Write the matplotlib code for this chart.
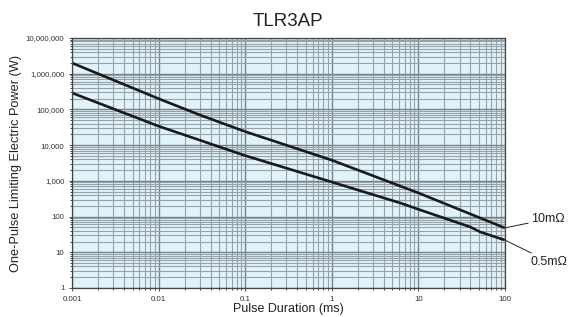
import numpy as np
import matplotlib
matplotlib.use('Agg')
import matplotlib.pyplot as plt
from matplotlib.ticker import LogLocator, FuncFormatter, NullFormatter

plt.rcParams['font.family'] = ['Liberation Sans', 'DejaVu Sans']

# pulse duration (ms) and limiting power (W)
t_10m = [0.001, 0.01, 0.03, 0.1, 1, 10, 100]
p_10m = [2.0e6, 2.0e5, 7.0e4, 2.4e4, 3.8e3, 460, 48]

t_05m = [0.001, 0.01, 0.1, 1, 6.2, 10, 40, 52, 100]
p_05m = [2.9e5, 3.4e4, 5.1e3, 930, 240, 160, 51, 37, 22]

labels = ['10m\u03a9', '0.5m\u03a9']
label_pos = [(200, 85), (200, 5.4)]

xticks = [0.001, 0.01, 0.1, 1, 10, 100]
yticks = [1, 10, 100, 1e3, 1e4, 1e5, 1e6, 1e7]

fig = plt.figure(figsize=(5.68, 3.17), dpi=100)
ax = fig.add_axes([0.1268, 0.0915, 0.762, 0.7886])
ax.set_facecolor('#e0f3fb')

ax.plot(t_10m, p_10m, color='#1a1a1a', lw=1.9, solid_capstyle='butt')
ax.plot(t_05m, p_05m, color='#1a1a1a', lw=1.9, solid_capstyle='butt')

ax.set_xscale('log')
ax.set_yscale('log')
ax.set_xlim(0.001, 100)
ax.set_ylim(1, 1e7)

ax.set_xticks(xticks)
ax.set_yticks(yticks)
ax.xaxis.set_minor_locator(LogLocator(base=10, subs=np.arange(2, 10), numticks=20))
ax.yaxis.set_minor_locator(LogLocator(base=10, subs=np.arange(2, 10), numticks=20))
ax.xaxis.set_minor_formatter(NullFormatter())
ax.yaxis.set_minor_formatter(NullFormatter())
ax.xaxis.set_major_formatter(FuncFormatter(lambda v, p: ('%g' % v)))
ax.yaxis.set_major_formatter(FuncFormatter(lambda v, p: '{:,.0f}'.format(v)))

ax.grid(True, which='major', color='#76838a', lw=1.0)
ax.grid(True, which='minor', color='#97a2a8', lw=0.8)
ax.set_axisbelow(True)

ax.tick_params(which='major', length=2.5, width=0.6, labelsize=5.7, pad=3, colors='#333333')
ax.tick_params(which='minor', length=1.5, width=0.5)
for s in ax.spines.values():
    s.set_color('#444444')
    s.set_linewidth(0.9)

ax.set_title('TLR3AP', fontsize=13.5, color='#222222', pad=9)
ax.set_xlabel('Pulse Duration (ms)', fontsize=9, color='#222222', labelpad=0)
ax.set_ylabel('One-Pulse Limiting Electric Power (W)', fontsize=9.2, color='#222222', labelpad=3)

# callout labels to the right of the curves
ends = [(t_10m[-1], p_10m[-1]), (t_05m[-1], p_05m[-1])]
for lab, end, pos in zip(labels, ends, label_pos):
    ax.annotate(lab, xy=end, xytext=pos, fontsize=9, color='#222222',
                va='center', ha='left', annotation_clip=False,
                arrowprops=dict(arrowstyle='-', color='#222222', lw=0.7, shrinkA=0, shrinkB=1))

fig.savefig('out.png', dpi=100)
